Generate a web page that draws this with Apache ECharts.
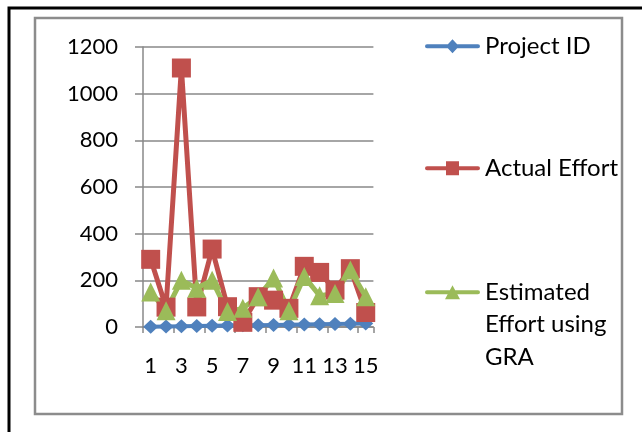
<!DOCTYPE html>
<html>
<head>
<meta charset="utf-8">
<script src="https://cdn.jsdelivr.net/npm/echarts@6/dist/echarts.min.js"></script>
<style>
  html, body { margin: 0; padding: 0; background: #fff; }
  #chart { width: 642px; height: 432px; }
</style>
</head>
<body>
<div id="chart"></div>
<script>
// Project numbers on the category axis
const projects = ['1','2','3','4','5','6','7','8','9','10','11','12','13','14','15'];
// Series values
const projectId = [1,2,3,4,5,6,7,8,9,10,11,12,13,14,15];
const actualEffort = [290,85,1110,86,334,87,20,130,115,80,260,234,158,250,62];
const estimatedGRA = [150,70,200,166,200,66,80,130,210,70,216,134,144,244,130];
// Value axis ticks
const yTicks = { min: 0, max: 1200, step: 200 };

const FONT = 'Lato';
const BLUE = '#4F81BD', RED = '#C0504D', GREEN = '#9BBB59';

// Legend keys: a thick rounded line with the series marker in the middle (55 x 14 box)
const KEY_LINE = 'M2,5 L53,5 A2,2 0 0 1 53,9 L2,9 A2,2 0 0 1 2,5 Z ';
const KEY_DIAMOND = 'path://' + KEY_LINE + 'M27.5,0 L34,7 L27.5,14 L21,7 Z';
const KEY_SQUARE = 'path://' + KEY_LINE + 'M21,0 L34,0 L34,14 L21,14 Z';
const KEY_TRIANGLE = 'path://' + KEY_LINE + 'M27.5,0 L35,14 L20,14 Z';

const chart = echarts.init(document.getElementById('chart'), null, { renderer: 'canvas' });

function legendBox(name, icon, top, formatter) {
  return {
    left: 425, top: top, orient: 'vertical', padding: 0,
    itemWidth: 55, itemHeight: 14,
    data: [{ name: name, icon: icon }],
    selectedMode: false,
    formatter: formatter,
    textStyle: { fontFamily: FONT, fontSize: 24, color: '#000', lineHeight: 32.5 }
  };
}

chart.setOption({
  animation: false,
  backgroundColor: '#fff',
  graphic: [
    { type: 'rect', shape: { x: 9, y: 8, width: 700, height: 500 },
      style: { fill: 'none', stroke: '#000', lineWidth: 3 }, z: -10 },
    { type: 'rect', shape: { x: 35, y: 18, width: 587, height: 396 },
      style: { fill: 'none', stroke: '#8c8c8c', lineWidth: 2.5 }, z: -10 }
  ],
  legend: [
    legendBox('Project ID', KEY_DIAMOND, 30),
    legendBox('Actual Effort', KEY_SQUARE, 152),
    legendBox('Estimated Effort using GRA', KEY_TRIANGLE, 211,
              () => '\n\nEstimated\nEffort using\nGRA')
  ],
  grid: { left: 143, right: 268.6, top: 47, bottom: 105 },
  xAxis: {
    type: 'category', data: projects, boundaryGap: true,
    axisLine: { lineStyle: { color: '#888', width: 1.5 } },
    axisTick: { show: true, length: 6, lineStyle: { color: '#888', width: 1.5 } },
    axisLabel: { interval: 1, margin: 28, fontFamily: FONT, fontSize: 22, color: '#000' },
    splitLine: { show: false }
  },
  yAxis: {
    type: 'value', min: yTicks.min, max: yTicks.max, interval: yTicks.step,
    axisLine: { show: true, lineStyle: { color: '#888', width: 1.5 } },
    axisTick: { show: true, length: 8, lineStyle: { color: '#888', width: 1.5 } },
    axisLabel: { margin: 25, fontFamily: FONT, fontSize: 22, color: '#000',
                 formatter: v => String(v) },
    splitLine: { lineStyle: { color: '#888', width: 1.5 } }
  },
  series: [
    { name: 'Project ID', type: 'line', data: projectId, showAllSymbol: true,
      symbol: 'diamond', symbolSize: [15, 14],
      lineStyle: { color: BLUE, width: 4 }, itemStyle: { color: BLUE } },
    { name: 'Actual Effort', type: 'line', data: actualEffort, showAllSymbol: true,
      symbol: 'rect', symbolSize: 19,
      lineStyle: { color: RED, width: 5 }, itemStyle: { color: RED } },
    { name: 'Estimated Effort using GRA', type: 'line', data: estimatedGRA, showAllSymbol: true,
      symbol: 'triangle', symbolSize: 19,
      lineStyle: { color: GREEN, width: 5 }, itemStyle: { color: GREEN } }
  ]
});
</script>
</body>
</html>
